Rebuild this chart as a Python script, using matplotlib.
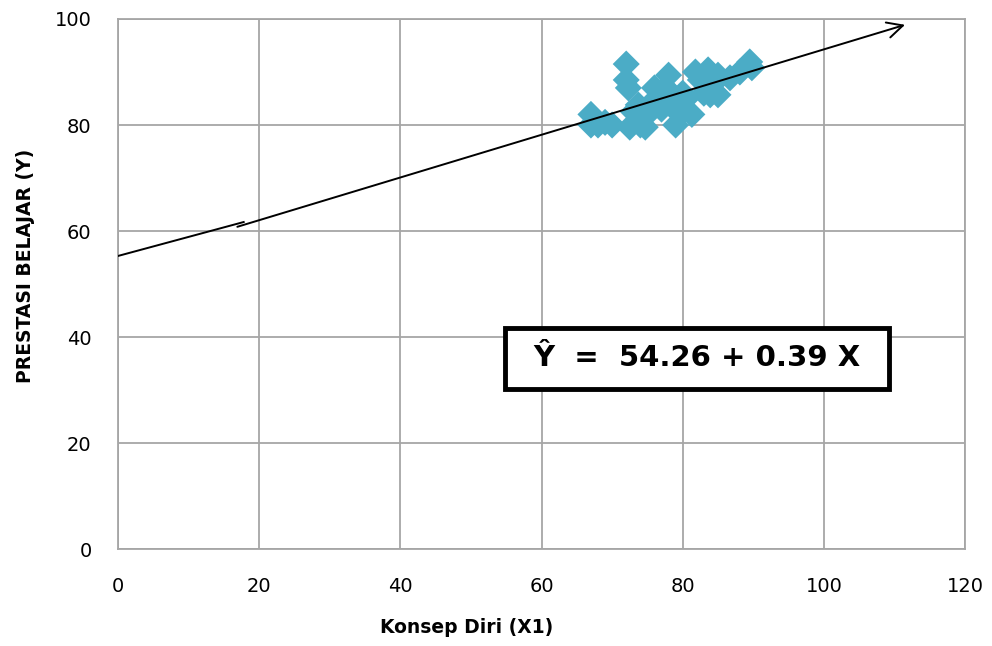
import matplotlib

matplotlib.use("Agg")

import matplotlib.pyplot as plt
from matplotlib.patches import Rectangle

# scatter data
konsep_diri = [67, 67, 68, 69, 70, 72, 72, 72.3, 72.5, 73, 73.7, 74, 74.7, 75, 76, 76,
               77, 77.5, 78, 78, 78.5, 79, 79.6, 80, 80.3, 81.3, 81.8, 82.5, 83, 83.6,
               83.9, 84.5, 85, 85, 86.7, 88.1, 89.5, 89.8]
prestasi = [82, 80, 80, 80.5, 80, 91.5, 88.5, 87, 79.6, 82.5, 83.8, 80, 79.6, 82, 84.7, 87,
            83, 87, 89.4, 86.5, 84.7, 80, 82, 86, 84.7, 82, 90, 88.5, 86, 90.4,
            85.7, 88, 85.7, 89.4, 88.9, 90, 91.9, 90.8]

# hand-drawn trend line (two pieces, second one ends with an arrow)
line1_x = [0, 17.8]
line1_y = [55.3, 61.7]
line2_x = [16.9, 111.5]
line2_y = [60.8, 98.9]

x_ticks = [0, 20, 40, 60, 80, 100, 120]
y_ticks = [0, 20, 40, 60, 80, 100]

GRID = "#a6a6a6"

fig = plt.figure(figsize=(9.92, 6.46), dpi=100)
ax = fig.add_axes([0.119, 0.150, 0.8538, 0.8206])

ax.scatter(konsep_diri, prestasi, marker="D", s=190, color="#4bacc6",
           edgecolors="none", zorder=3)

ax.plot(line1_x, line1_y, color="black", lw=1.4, zorder=4)
ax.annotate("", xy=(line2_x[1], line2_y[1]), xytext=(line2_x[0], line2_y[0]),
            arrowprops=dict(arrowstyle="->", color="black", lw=1.4,
                            mutation_scale=28, shrinkA=0, shrinkB=0),
            zorder=4)

ax.set_xlim(0, 120)
ax.set_ylim(0, 100)
ax.set_xticks(x_ticks)
ax.set_yticks(y_ticks)
ax.tick_params(length=0, labelsize=14)
ax.tick_params(axis="x", pad=20)
ax.tick_params(axis="y", pad=19)
ax.grid(True, color=GRID, lw=1.3)
ax.set_axisbelow(True)
for spine in ax.spines.values():
    spine.set_color(GRID)
    spine.set_linewidth(1.3)

ax.set_xlabel("Konsep Diri (X1)", fontsize=13.5, fontweight="bold", labelpad=16)
ax.set_ylabel("PRESTASI BELAJAR (Y)", fontsize=13.5, fontweight="bold", labelpad=14)
ax.xaxis.label.set_x(0.412)
ax.yaxis.label.set_y(0.534)

# equation box
ax.add_patch(Rectangle((0.457, 0.302), 0.453, 0.115, transform=ax.transAxes,
                       facecolor="white", edgecolor="black", linewidth=3.5,
                       zorder=5))
ax.text(0.6835, 0.360, "Ŷ  =  54.26 + 0.39 X", transform=ax.transAxes,
        ha="center", va="center", fontsize=21, fontweight="bold",
        family="DejaVu Sans", zorder=6)

fig.savefig("out.png", dpi=100)
